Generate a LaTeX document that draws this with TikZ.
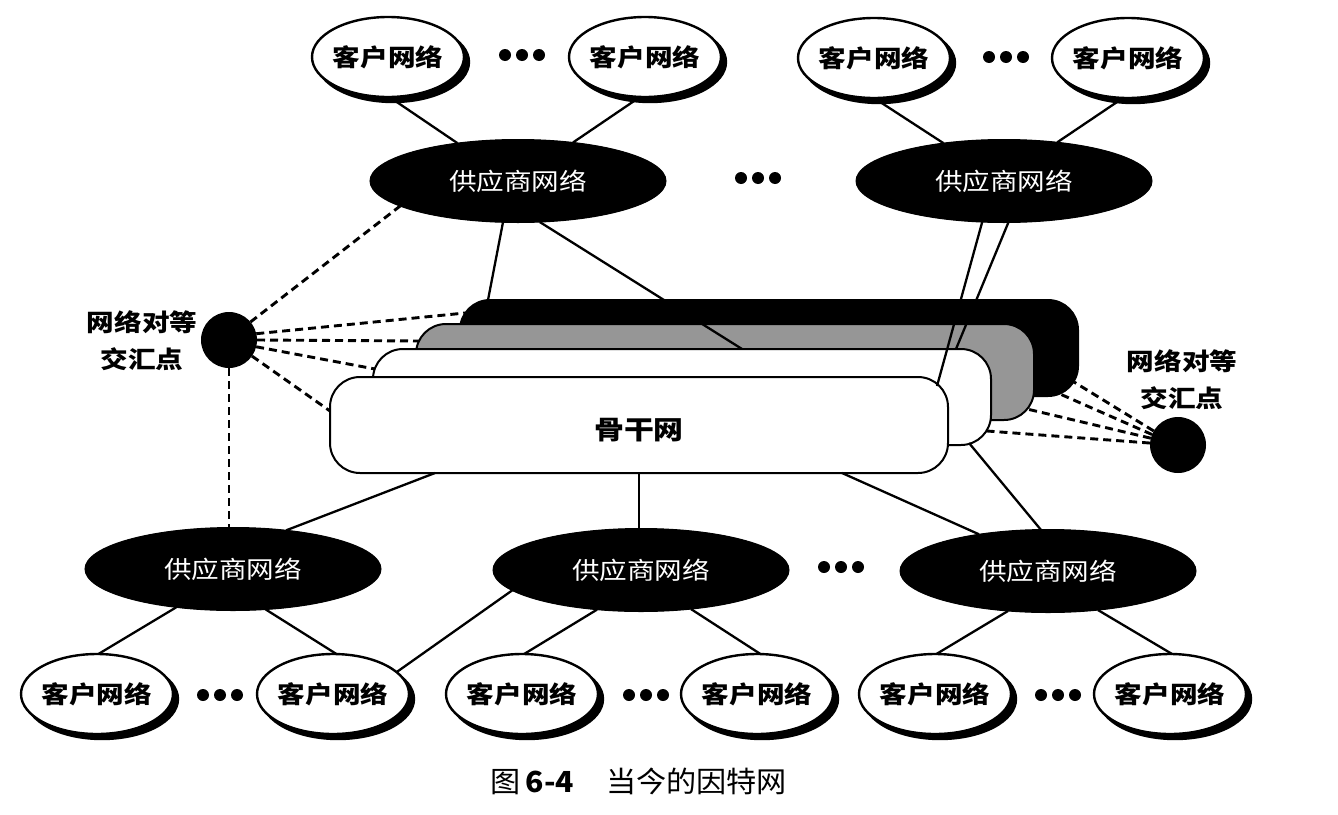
\documentclass[tikz,border=0pt]{standalone}
\usepackage{fontspec}
\setmainfont{Noto Sans CJK SC}
\newfontfamily\cjkw{Noto Sans CJK SC}[FakeStretch=1.15]
\newfontfamily\cjkcap{Noto Sans CJK SC}[FakeStretch=1.04]
\usetikzlibrary{shapes.geometric,calc}
\definecolor{layergray}{RGB}{150,150,150}
\tikzset{
  client/.style={ellipse, draw=black, line width=2.4pt, fill=white,
    minimum width=152pt, minimum height=80pt, inner sep=0pt, outer sep=0pt,
    preaction={fill=black, draw=black, line width=2.4pt,
      transform canvas={xshift=5pt,yshift=-5pt}}},
  clienttext/.style={font={\cjkw\bfseries\fontsize{24pt}{28pt}\selectfont}, inner sep=0pt},
  provider/.style={ellipse, draw=black, line width=1pt, fill=black, text=white,
    minimum width=296pt, minimum height=83pt, inner sep=0pt, outer sep=0pt,
    font={\cjkw\fontsize{24pt}{28pt}\selectfont}},
  layer/.style={rectangle, rounded corners=30pt, draw=black, line width=2pt,
    minimum width=618pt, minimum height=96pt, inner sep=0pt, outer sep=0pt},
  peerpt/.style={circle, fill=black, minimum size=56pt, inner sep=0pt, outer sep=0pt},
  peerlabel/.style={align=center, font={\cjkw\bfseries\fontsize{24pt}{37pt}\selectfont}},
  conn/.style={line width=2.3pt},
  peer/.style={line width=2.9pt, dash pattern=on 8pt off 5pt},
  ddd/.pic={\fill (-17,0) circle[radius=6]; \fill (0,0) circle[radius=6]; \fill (17,0) circle[radius=6];}
}
\begin{document}
\begin{tikzpicture}[x=1pt,y=-1pt]
\useasboundingbox (0,0) rectangle (1338,814);
\fill[white] (0,0) rectangle (1338,814);

% backbone layers (back to front)
\node[layer, fill=black] (BB1) at (769,348) {};
\node[layer, fill=layergray] (BB2) at (725,372) {};
\node[layer, fill=white] (BB3) at (682,397) {};
\node[layer, fill=white, label={[font={\cjkw\bfseries\fontsize{26pt}{30pt}\selectfont}, yshift=-5pt]center:骨干网}] (BB4) at (639,425) {};

% top clients
\node[client, label={[clienttext]center:客户网络}] (TC1) at (388,57) {};
\node[client, label={[clienttext]center:客户网络}] (TC2) at (645,57) {};
\node[client, label={[clienttext]center:客户网络}] (TC3) at (874,58) {};
\node[client, label={[clienttext]center:客户网络}] (TC4) at (1128,58) {};

% providers
\node[provider] (TP1) at (518,181) {供应商网络};
\node[provider] (TP2) at (1004,181) {供应商网络};
\node[provider] (BP1) at (233,569) {供应商网络};
\node[provider] (BP2) at (641,570) {供应商网络};
\node[provider] (BP3) at (1048,571) {供应商网络};

% bottom clients
\node[client, label={[clienttext]center:客户网络}] (BC1) at (97,694) {};
\node[client, label={[clienttext]center:客户网络}] (BC2) at (333,694) {};
\node[client, label={[clienttext]center:客户网络}] (BC3) at (522,694) {};
\node[client, label={[clienttext]center:客户网络}] (BC4) at (757,694) {};
\node[client, label={[clienttext]center:客户网络}] (BC5) at (935,694) {};
\node[client, label={[clienttext]center:客户网络}] (BC6) at (1170,694) {};

% peering points
\node[peerpt] (CL) at (229,340) {};
\node[peerpt] (CR) at (1178,445) {};
\node[peerlabel] (LL) at (142,341) {网络对等\\交汇点};
\node[peerlabel] (RL) at (1182,380) {网络对等\\交汇点};

% dots
\pic at (522,55) {ddd};
\pic at (1006,57) {ddd};
\pic at (758,178) {ddd};
\pic at (220,695) {ddd};
\pic at (646,695) {ddd};
\pic at (841,567) {ddd};
\pic at (1058,695) {ddd};

% solid connectors
\draw[conn] (TC1.-88) -- (TP1.148);
\draw[conn] (TC2.-97) -- (TP1.35);
\draw[conn] (TC3.-90) -- (TP2.148);
\draw[conn] (TC4.-97) -- (TP2.36);
\draw[conn] (TP1.-110) -- ($(BB1.north west)+(28,0)$);
\draw[conn] (TP1.-62) -- ($(BB3.north west)+(369,0)$);
\draw[conn] (TP2.-118) -- ($(BB4.north east)+(-11,9)$);
\draw[conn] (TP2.-84) -- ($(BB3.north east)+(-35,0)$);
\draw[conn] ($(BB4.south west)+(105,0)$) -- (BP1.36);
\draw[conn] (BB4.south) -- (BB4.south |- BP2.north);
\draw[conn] ($(BB4.south west)+(512,0)$) -- (BP3.152);
\draw[conn] ($(BB3.south east)+(-22,-2)$) -- (BP3.100);
\draw[conn] (BP1.-146) -- (BC1.88);
\draw[conn] (BP1.-51) -- (BC2.85);
\draw[conn] (BP2.189) -- (BC2.19);
\draw[conn] (BP2.-138) -- (BC3.87);
\draw[conn] (BP2.-38) -- (BC4.85);
\draw[conn] (BP3.-135) -- (BC5.88);
\draw[conn] (BP3.-38) -- (BC6.87);

% dashed peering connectors
\draw[peer] (CL.40) -- (TP1.192);
\draw[peer] (CL.13) -- ($(BB1.north west)+(5,13)$);
\draw[peer] (CL.0) -- ($(BB2.north west)+(3,17)$);
\draw[peer] (CL.-14) -- ($(BB3.north west)+(2,20)$);
\draw[peer] (CL.-35) -- ($(BB4.north west)+(0,34)$);
\draw[peer] (CL.south) -- (CL.south |- BP1.north);
\draw[peer] (CR.150) -- ($(BB1.south east)+(-4,-14)$);
\draw[peer] (CR.158) -- ($(BB1.south east)+(-18,-2)$);
\draw[peer] (CR.166) -- ($(BB2.south east)+(-7,-11)$);
\draw[peer] (CR.176) -- ($(BB3.south east)+(-4,-14)$);

% caption
\node[font={\cjkcap\fontsize{29pt}{34pt}\selectfont}] (CAP) at (639,781) {图\,{\bfseries 6-4}\hspace{1.1em}当今的因特网};
\end{tikzpicture}
\end{document}
